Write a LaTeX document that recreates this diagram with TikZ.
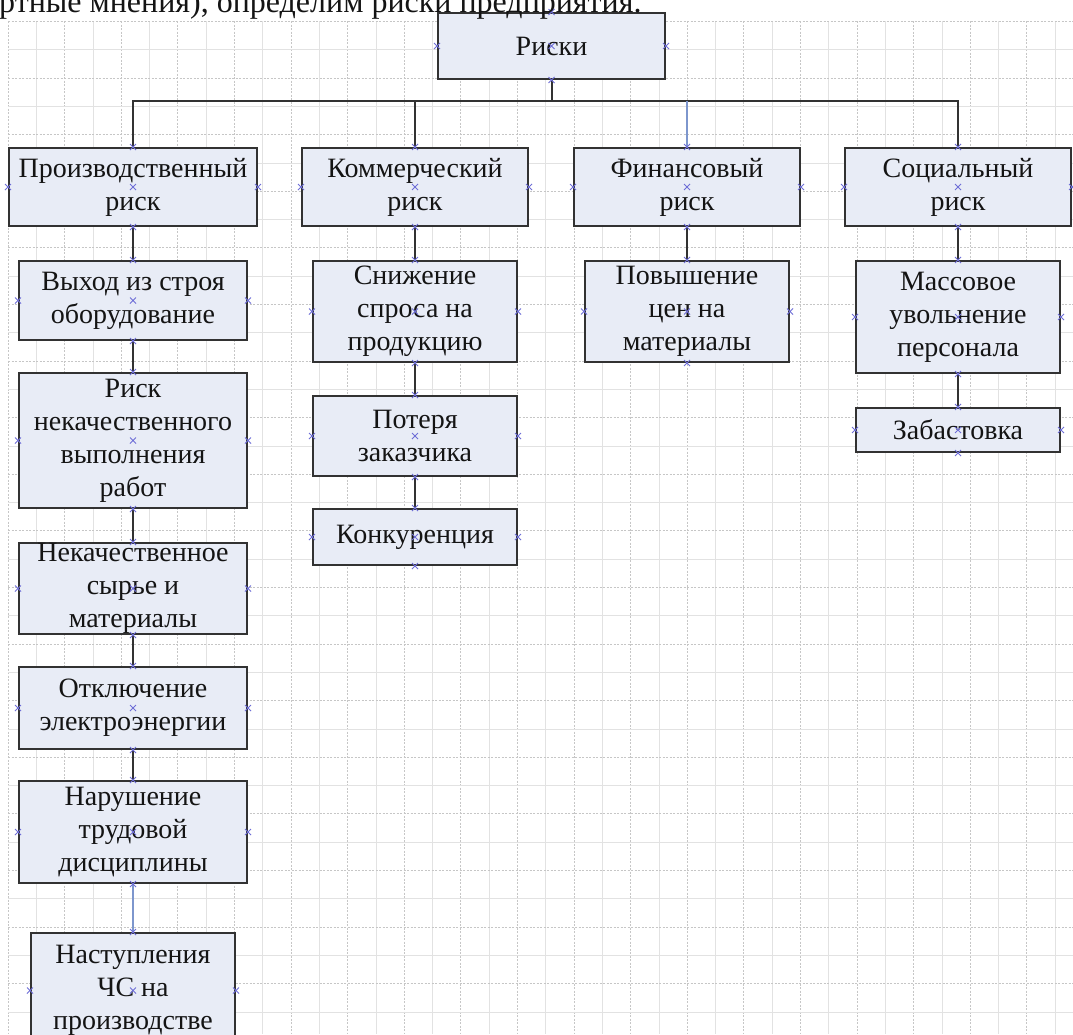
\documentclass[tikz,border=0pt]{standalone}
\usepackage{fontspec}
\setmainfont{Liberation Serif}

\definecolor{boxfill}{RGB}{232,236,246}
\definecolor{boxline}{RGB}{50,50,50}
\definecolor{linkblue}{RGB}{125,150,205}
\definecolor{pinblue}{RGB}{110,110,215}
\definecolor{gridgray}{RGB}{226,226,226}
\definecolor{griddotgray}{RGB}{198,198,198}
\definecolor{txt}{RGB}{20,20,20}

\tikzset{
  gridline/.style={gridgray, line width=0.8pt},
  griddot/.style={griddotgray, line width=0.8pt, dash pattern=on 2pt off 1.5pt},
  riskbox/.style={draw=boxline, fill=boxfill, line width=2pt, inner sep=0pt},
  boxtext/.style={align=center, inner sep=0pt, text=txt, font=\fontsize{28}{33}\selectfont},
  link/.style={boxline, line width=2pt},
  pin/.style={pinblue, line width=1pt}
}

% box given by its corners (x1,y1) (x2,y2), text put on top
\newcommand{\riskbox}[6]{%
  \pgfmathsetmacro{\bw}{#4-#2}%
  \pgfmathsetmacro{\bh}{#5-#3}%
  \node[riskbox, minimum width=\bw pt, minimum height=\bh pt] (#1) at ({(#2+#4)/2},{(#3+#5)/2}) {};
  \node[boxtext] (#1-text) at (#1.center) {#6};
}

\begin{document}
\begin{tikzpicture}[x=1pt,y=-1pt]
\useasboundingbox (0,0) rectangle (1073,1034);
\fill[white] (0,0) rectangle (1073,1034);

% grid paper
\def\gstep{28.3};
\foreach \i in {0,...,37} {
  \pgfmathsetmacro{\gpos}{8+\i*\gstep}
  \ifodd\i
    \draw[gridline] (\gpos,21) -- (\gpos,1034);
  \else
    \draw[griddot] (\gpos,21) -- (\gpos,1034);
  \fi
}
\foreach \j in {0,...,35} {
  \pgfmathsetmacro{\gpos}{21.4+\j*\gstep}
  \ifodd\j
    \draw[gridline] (8,\gpos) -- (1073,\gpos);
  \else
    \draw[griddot] (8,\gpos) -- (1073,\gpos);
  \fi
}

% top level
\riskbox{risks}{438}{13}{665}{79}{Риски}
\riskbox{prod}{9}{148}{257}{226}{Производственный\\риск}
\riskbox{com}{302}{148}{528}{226}{Коммерческий\\риск}
\riskbox{fin}{574}{148}{800}{226}{Финансовый\\риск}
\riskbox{soc}{845}{148}{1071}{226}{Социальный\\риск}

% production risks
\riskbox{breakdown}{19}{261}{247}{340}{Выход из строя\\оборудование}
\riskbox{quality}{19}{373}{247}{508}{Риск\\некачественного\\выполнения\\работ}
\riskbox{rawmat}{19}{543}{247}{634}{Некачественное\\сырье и\\материалы}
\riskbox{power}{19}{667}{247}{749}{Отключение\\электроэнергии}
\riskbox{discipline}{19}{781}{247}{883}{Нарушение\\трудовой\\дисциплины}
\riskbox{emergency}{31}{933}{235}{1048}{Наступления\\ЧС на\\производстве}

% commercial risks
\riskbox{demand}{313}{261}{517}{362}{Снижение\\спроса на\\продукцию}
\riskbox{client}{313}{396}{517}{476}{Потеря\\заказчика}
\riskbox{rivals}{313}{509}{517}{565}{Конкуренция}

% financial risks
\riskbox{prices}{585}{261}{789}{362}{Повышение\\цен на\\материалы}

% social risks
\riskbox{layoff}{856}{261}{1060}{373}{Массовое\\увольнение\\персонала}
\riskbox{strike}{856}{408}{1060}{452}{Забастовка}

% bus from the root
\coordinate (bus) at (551.5,101);
\draw[link] (risks.south) -- (bus) -| (soc.north);
\draw[link] (bus) -| (prod.north);
\draw[link] (com.north |- bus) -- (com.north);
\draw[link, draw=linkblue] (fin.north |- bus) -- (fin.north);

% chains under each group
\foreach \a/\b in {prod/breakdown, breakdown/quality, quality/rawmat, rawmat/power,
                   power/discipline, com/demand, demand/client, client/rivals,
                   fin/prices, soc/layoff, layoff/strike}
  \draw[link] (\a.south) -- (\b.north);
\draw[link, draw=linkblue] (discipline.south) -- (emergency.north);

% connection points
\foreach \n in {risks, prod, com, fin, soc, breakdown, quality, rawmat, power,
                discipline, emergency, demand, client, rivals, prices, layoff, strike}
  \foreach \a in {center, north, south, east, west}
    \draw[pin] (\n.\a) +(-3,-3) -- +(3,3) +(-3,3) -- +(3,-3);

% cut-off line of the page text above
\node[anchor=base west, inner sep=0pt, text=txt, font=\fontsize{32}{38}\selectfont]
  (lead) at (-1,12) {ртные мнения), определим риски предприятия.};
\end{tikzpicture}
\end{document}
